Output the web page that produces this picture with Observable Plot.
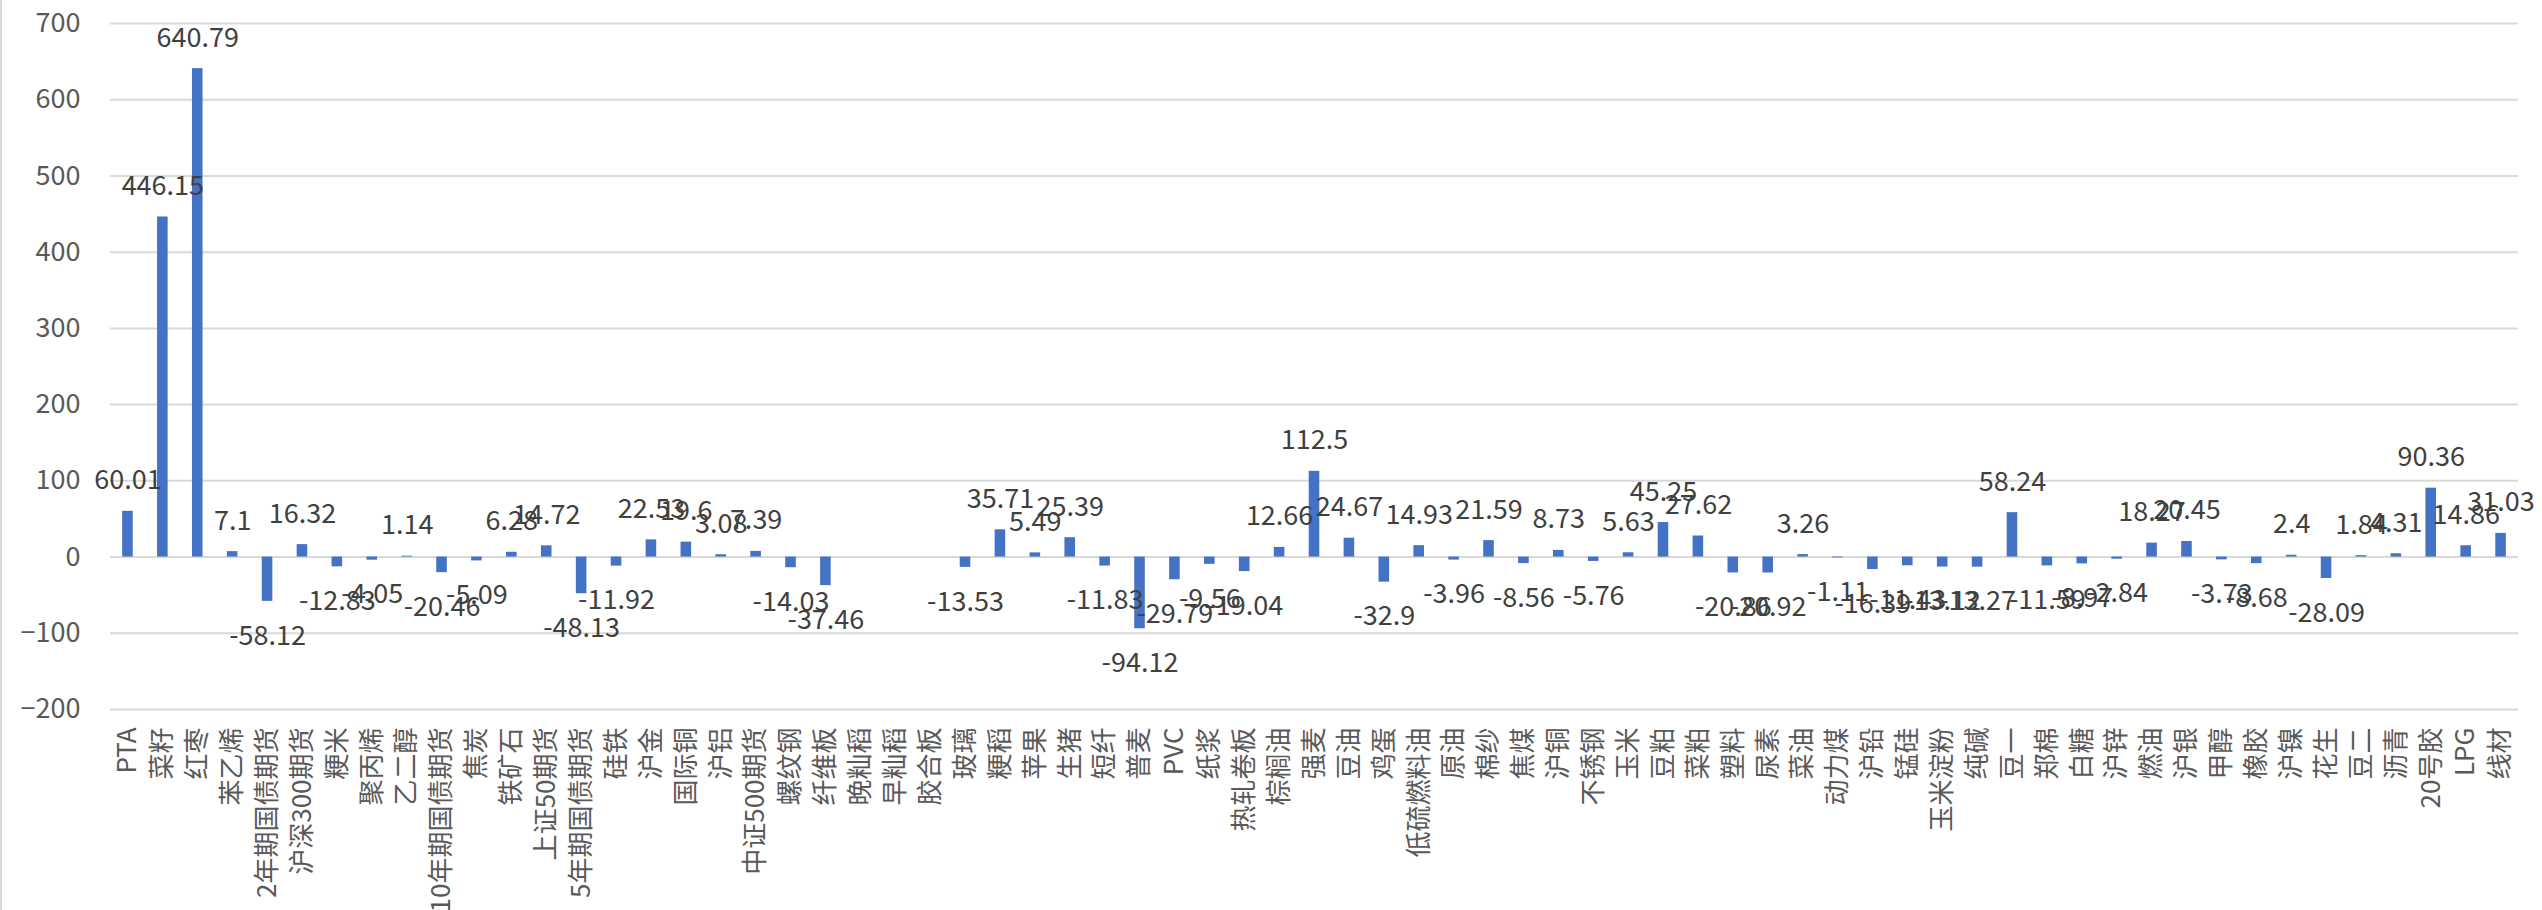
<!DOCTYPE html>
<html>
<head>
<meta charset="utf-8">
<script src="https://cdn.jsdelivr.net/npm/d3@7"></script>
<script src="https://cdn.jsdelivr.net/npm/@observablehq/plot@0.6"></script>
<style>
html, body { margin: 0; padding: 0; background: #fff; overflow: hidden; }
#chart { width: 2542px; height: 910px; box-sizing: border-box; border-left: 2px solid #d9d9d9; }
</style>
</head>
<body>
<div id="chart"></div>
<script>
const categories = [
  "PTA","菜籽","红枣","苯乙烯","2年期国债期货","沪深300期货","粳米","聚丙烯","乙二醇","10年期国债期货",
  "焦炭","铁矿石","上证50期货","5年期国债期货","硅铁","沪金","国际铜","沪铝","中证500期货","螺纹钢",
  "纤维板","晚籼稻","早籼稻","胶合板","玻璃","粳稻","苹果","生猪","短纤","普麦",
  "PVC","纸浆","热轧卷板","棕榈油","强麦","豆油","鸡蛋","低硫燃料油","原油","棉纱",
  "焦煤","沪铜","不锈钢","玉米","豆粕","菜粕","塑料","尿素","菜油","动力煤",
  "沪铅","锰硅","玉米淀粉","纯碱","豆一","郑棉","白糖","沪锌","燃油","沪银",
  "甲醇","橡胶","沪镍","花生","豆二","沥青","20号胶","LPG","线材"
];
const values = [
  60.01, 446.15, 640.79, 7.1, -58.12, 16.32, -12.83, -4.05, 1.14, -20.46,
  -5.09, 6.28, 14.72, -48.13, -11.92, 22.53, 19.6, 3.08, 7.39, -14.03,
  -37.46, null, null, null, -13.53, 35.71, 5.49, 25.39, -11.83, -94.12,
  -29.79, -9.56, -19.04, 12.66, 112.5, 24.67, -32.9, 14.93, -3.96, 21.59,
  -8.56, 8.73, -5.76, 5.63, 45.25, 27.62, -20.86, -20.92, 3.26, -1.11,
  -16.39, -11.43, -13.12, -13.27, 58.24, -11.59, -8.97, -2.84, 18.27, 20.45,
  -3.73, -8.68, 2.4, -28.09, 1.84, 4.31, 90.36, 14.86, 31.03
];
const yTicks = [-200, -100, 0, 100, 200, 300, 400, 500, 600, 700];

const data = categories.map((c, i) => ({category: c, value: values[i]})).filter(d => d.value != null);
const pos = data.filter(d => d.value >= 0);
const neg = data.filter(d => d.value < 0);
const font = '"Noto Sans CJK SC", "Noto Sans", sans-serif';

const chart = Plot.plot({
  width: 2540,
  height: 910,
  marginTop: 23,
  marginBottom: 201,
  marginLeft: 108,
  marginRight: 24,
  style: {fontFamily: font, fontSize: "27px", color: "#595959", background: "#fff", overflow: "visible"},
  x: {domain: categories, paddingInner: 0.697, paddingOuter: 0.3485, label: null},
  y: {domain: [-200, 700], ticks: yTicks, label: null},
  marks: [
    Plot.gridY(yTicks, {stroke: "#d9d9d9", strokeOpacity: 1, strokeWidth: 2}),
    Plot.barY(data, {x: "category", y: "value", fill: "#4472c4"}),
    Plot.text(pos, {x: "category", y: "value", text: d => String(d.value), dy: -22, lineAnchor: "bottom", fill: "#404040", fontSize: 27}),
    Plot.text(neg, {x: "category", y: "value", text: d => String(d.value), dy: 24, lineAnchor: "top", fill: "#404040", fontSize: 27}),
    Plot.axisY({ticks: yTicks, tickSize: 0, tickPadding: 30, fontSize: 27, fill: "#595959"}),
    Plot.axisX({tickSize: 0, tickPadding: 18, tickRotate: -90, fontSize: 26, fill: "#595959", label: null})
  ]
});
document.getElementById("chart").appendChild(chart);
</script>
</body>
</html>
